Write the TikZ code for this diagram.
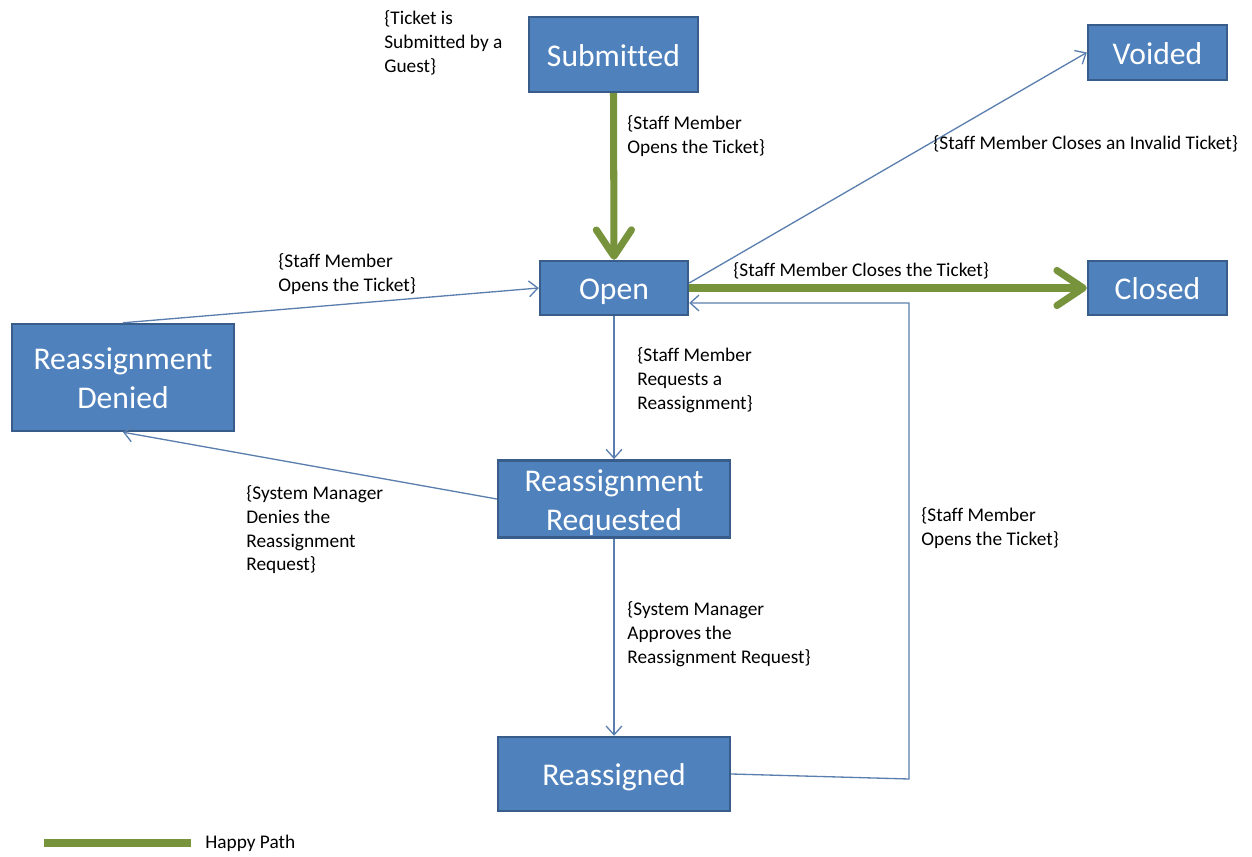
\documentclass[tikz,border=0pt]{standalone}
\usepackage{fontspec}
\setmainfont{Carlito}[Ligatures=NoCommon]
\usetikzlibrary{arrows.meta}

\definecolor{boxfill}{HTML}{4F81BD}
\definecolor{boxedge}{HTML}{385D8A}
\definecolor{linkblue}{HTML}{5A7FAE}
\definecolor{happy}{HTML}{77933C}

% state caption, one or more centred lines, set a little lower than the middle
\newcommand\statetext[1]{\raisebox{0pt}[\dimexpr\height+0.08cm\relax][\dimexpr\depth-0.08cm\relax]{\begin{tabular}{@{}c@{}}#1\end{tabular}}}

\tikzset{
  state/.style={draw=boxedge, fill=boxfill, line width=1.4pt, text=white,
    inner sep=0pt, font=\fontsize{18}{22}\selectfont},
  lbl/.style={anchor=north west, inner sep=0pt, align=left,
    font=\fontsize{11}{13.6}\selectfont},
  link/.style={draw=linkblue, line width=0.75pt,
    -{Straight Barb[length=5pt,width=9pt]}},
  happylink/.style={draw=happy, line width=4pt,
    -{Straight Barb[length=15pt,width=20pt,line cap=round,line join=round]}}
}

\begin{document}
\begin{tikzpicture}[x=0.02cm, y=-0.02cm]
\useasboundingbox (0,0) rectangle (1252,857);

% states
\node[state, minimum width=3.38cm, minimum height=1.50cm] (sub) at (613.5,54.5) {\statetext{Submitted}};
\node[state, minimum width=2.78cm, minimum height=1.10cm] (void) at (1157.5,52.5) {\statetext{Voided}};
\node[state, minimum width=2.96cm, minimum height=1.08cm] (open) at (614,288) {\statetext{Open}};
\node[state, minimum width=2.78cm, minimum height=1.08cm] (closed) at (1157.5,288) {\statetext{Closed}};
\node[state, minimum width=4.44cm, minimum height=2.14cm] (denied) at (123,377.5) {\statetext{Reassignment\\Denied}};
\node[state, minimum width=4.64cm, minimum height=1.52cm] (req) at (614,499) {\statetext{Reassignment\\Requested}};
\node[state, minimum width=4.64cm, minimum height=1.48cm] (assigned) at (614,774) {\statetext{Reassigned}};

% transitions
\draw[happylink] (sub.south) -- (open.north);
\draw[link] ([yshift=0.1cm]open.east) -- (void.west);
\draw[happylink] (open.east) -- (closed.west);
\draw[link] (denied.north) -- (open.west);
\draw[link] (open.south) -- (req.north);
\draw[link] (req.west) -- (denied.south);
\draw[link] (req.south) -- (assigned.north);
\coordinate (bend) at (909,779);
\draw[link] (assigned.east) -- (bend) |- ([yshift=-0.3cm]open.east);

% transition labels
\node[lbl] (t0) at (384,10) {\{Ticket is\\Submitted by a\\Guest\}};
\node[lbl] (t1) at (627,115) {\{Staff Member\\Opens the Ticket\}};
\node[lbl] (t2) at (933,135) {\{Staff Member Closes an Invalid Ticket\}};
\node[lbl] (t3) at (278,253) {\{Staff Member\\Opens the Ticket\}};
\node[lbl] (t4) at (733,262) {\{Staff Member Closes the Ticket\}};
\node[lbl] (t5) at (637,347) {\{Staff Member\\Requests a\\Reassignment\}};
\node[lbl] (t6) at (246,485) {\{System Manager\\Denies the\\Reassignment\\Request\}};
\node[lbl] (t7) at (921,507) {\{Staff Member\\Opens the Ticket\}};
\node[lbl] (t8) at (627,601) {\{System Manager\\Approves the\\Reassignment Request\}};

% legend
\coordinate (leg1) at (44,843);
\coordinate (leg2) at (191,843);
\draw[happy, line width=4.5pt] (leg1) -- (leg2);
\node[lbl, anchor=west] (legtxt) at (205,843) {Happy Path};
\end{tikzpicture}
\end{document}
